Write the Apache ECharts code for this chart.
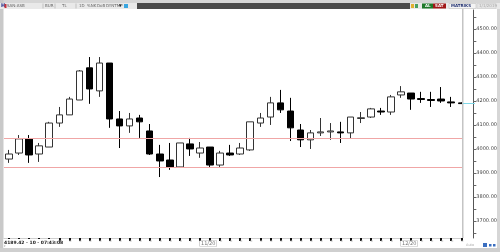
<!DOCTYPE html>
<html><head><meta charset="utf-8">
<script src="https://cdn.jsdelivr.net/npm/echarts@6/dist/echarts.min.js"></script>
<style>html,body{margin:0;padding:0;background:#fff}#c{width:500px;height:252px}</style>
</head><body><div id="c"></div>
<script>
// ---- data ----
var categories = ['','','','','','','','','','','','','','','','','','','','11/20','','','','','','','','','','','','','','','','','','','','12/20','','','','','',''];
// [open, close, low, high]
var candles = [
  [3958,3979,3942,3996],[3983,4042,3975,4058],[4042,3975,3942,4058],[3979,4013,3946,4025],
  [4008,4108,4008,4113],[4108,4142,4092,4175],[4142,4208,4142,4217],[4204,4325,4204,4329],
  [4338,4250,4188,4383],[4242,4358,4217,4383],[4358,4125,4088,4358],[4125,4096,4004,4158],
  [4096,4125,4067,4150],[4129,4113,4046,4142],[4075,3979,3975,4104],[3979,3950,3883,4017],
  [3954,3925,3913,4025],[3925,4025,3921,4025],[4021,4000,3971,4046],[3983,4004,3963,4029],
  [4008,3933,3925,4008],[3933,3983,3925,3992],[3983,3975,3971,4017],[3979,4004,3975,4025],
  [3996,4113,3992,4113],[4108,4129,4092,4150],[4133,4192,4100,4217],[4192,4163,4150,4246],
  [4158,4088,4033,4213],[4079,4038,4008,4104],[4038,4067,4000,4079],[4067,4071,4054,4129],
  [4071,4075,4038,4108],[4071,4067,4025,4113],[4067,4133,4042,4133],[4127,4130,4108,4154],
  [4133,4167,4129,4171],[4158,4154,4142,4171],[4154,4217,4142,4225],[4225,4238,4213,4262],
  [4233,4208,4163,4233],[4210,4206,4192,4238],[4206,4202,4175,4238],[4208,4200,4192,4258],
  [4196,4192,4175,4217],[4192,4189,4188,4194]
];
var refLevels = [4046, 3925];
var yTickLabels = [3700,3800,3900,4000,4100,4200,4300,4400,4500];
var yMinorTicks = [3650,3700,3750,3800,3850,3900,3950,4000,4050,4100,4150,4200,4250,4300,4350,4400,4450,4500,4550];
var lastPrice = 4189.42;
var statusText = '4189.42 - 10 - 07:43:08';

var chart = echarts.init(document.getElementById('c'), null, {renderer:'canvas'});
var FF = 'DejaVu Sans, sans-serif';
var refStyle = { color: '#f0a6a6', width: 1, type: 'solid', opacity: 1 };
var option = {
  backgroundColor: '#ffffff',
  animation: false,
  grid: { left: 4, top: 10, width: 464, bottom: 14, containLabel: false },
  xAxis: {
    type: 'category', data: categories, boundaryGap: true,
    axisLine: { show: true, lineStyle: { color: '#cfcfcf', width: 1 } },
    axisTick: { show: true, alignWithLabel: true, interval: 0, length: 3, lineStyle: { color: '#111', width: 2 } },
    axisLabel: { show: true, interval: 0, align: 'left', margin: 3, fontSize: 5, color: '#777', fontFamily: FF,
      borderColor: '#bbb', borderWidth: 0.6, padding: [0, 1, 0, 1], backgroundColor: '#fff' },
    splitLine: { show: false }
  },
  yAxis: {
    type: 'value', position: 'right', offset: 7, min: 3629, max: 4579, scale: true,
    axisLine: { show: true, lineStyle: { color: '#555', width: 1 } },
    axisTick: { show: true, length: 3, customValues: yMinorTicks, lineStyle: { color: '#666', width: 1 } },
    axisLabel: { show: true, customValues: yTickLabels, fontSize: 5, color: '#444', margin: 3, fontFamily: FF,
      formatter: function (v) { return String(v) + '.00'; } },
    splitLine: { show: false }
  },
  series: [{
    type: 'candlestick',
    data: candles,
    barWidth: 7,
    itemStyle: { color: '#ffffff', color0: '#000000', borderColor: '#333333', borderColor0: '#000000', borderWidth: 1 },
    markLine: {
      silent: true, symbol: 'none', label: { show: false },
      lineStyle: refStyle,
      emphasis: { disabled: true },
      data: refLevels.map(function (v) { return { yAxis: v, lineStyle: refStyle }; })
    }
  }],
  graphic: []
};
chart.setOption(option);

var yLast = chart.convertToPixel({ yAxisIndex: 0 }, lastPrice);
var g = [
  { type: 'rect', z: 100, shape: { x: 463, y: 9, width: 6, height: 230 }, style: { fill: '#ffffff' } },
  { type: 'rect', z: 101, shape: { x: 462, y: 9, width: 1.5, height: 229 }, style: { fill: '#c4c4c4' } },
  { type: 'line', z: 102, shape: { x1: 463, y1: yLast, x2: 475, y2: yLast }, style: { stroke: '#7fd8e8', lineWidth: 1 } },
  { type: 'rect', z: 100, shape: { x: 0, y: 0, width: 500, height: 3 }, style: { fill: '#d6d6d6' } },
  { type: 'rect', z: 100, shape: { x: 0, y: 0, width: 3.5, height: 252 }, style: { fill: '#c9c9c9' } },
  { type: 'rect', z: 100, shape: { x: 497, y: 0, width: 3, height: 252 }, style: { fill: '#d6d6d6' } },
  { type: 'rect', z: 100, shape: { x: 0, y: 248, width: 500, height: 4 }, style: { fill: '#cfcfcf' } },
  { type: 'rect', z: 100, shape: { x: 0, y: 3, width: 500, height: 6 }, style: { fill: '#e9e9e9' } },
  { type: 'rect', z: 101, shape: { x: 137, y: 3, width: 273, height: 6 }, style: { fill: '#4a4a4a' } },
  { type: 'text', z: 102, style: { x: 1, y: 3.5, text: 'H', fill: '#1a2a8a', font: 'bold 5px ' + FF } },
  { type: 'rect', z: 102, shape: { x: 4.5, y: 4, width: 2, height: 4 }, style: { fill: '#c8323c' } },
  { type: 'text', z: 102, style: { x: 7, y: 4, text: 'SAN:ASB', fill: '#666', font: '4px ' + FF } },
  { type: 'text', z: 102, style: { x: 45, y: 4, text: 'BUR', fill: '#666', font: '4px ' + FF } },
  { type: 'text', z: 102, style: { x: 62, y: 4, text: 'TL', fill: '#666', font: '4px ' + FF } },
  { type: 'text', z: 102, style: { x: 79, y: 4, text: '1D', fill: '#666', font: '4px ' + FF } },
  { type: 'text', z: 102, style: { x: 87, y: 4, text: '%NK', fill: '#666', font: '4px ' + FF } },
  { type: 'text', z: 102, style: { x: 97, y: 4, text: 'DoB', fill: '#666', font: '4px ' + FF } },
  { type: 'text', z: 102, style: { x: 106, y: 4, text: 'DYNTMP', fill: '#666', font: '4px ' + FF } },
  { type: 'text', z: 102, style: { x: 119, y: 3.5, text: '▾', fill: '#222', font: '5px ' + FF } },
  { type: 'rect', z: 102, shape: { x: 124, y: 4, width: 4, height: 4 }, style: { fill: '#3aa6e0' } },
  { type: 'line', z: 102, shape: { x1: 43, y1: 3.5, x2: 43, y2: 8.5 }, style: { stroke: '#aaa', lineWidth: 0.6 } },
  { type: 'line', z: 102, shape: { x1: 55, y1: 3.5, x2: 55, y2: 8.5 }, style: { stroke: '#aaa', lineWidth: 0.6 } },
  { type: 'line', z: 102, shape: { x1: 76, y1: 3.5, x2: 76, y2: 8.5 }, style: { stroke: '#aaa', lineWidth: 0.6 } },
  { type: 'rect', z: 102, shape: { x: 411, y: 4, width: 3, height: 4 }, style: { fill: '#e0b030' } },
  { type: 'rect', z: 102, shape: { x: 415, y: 4, width: 3, height: 4 }, style: { fill: '#4aa060' } },
  { type: 'rect', z: 102, shape: { x: 422, y: 3.5, width: 11, height: 5 }, style: { fill: '#1f7a2a' } },
  { type: 'text', z: 103, style: { x: 425, y: 4, text: 'AL', fill: '#fff', font: 'bold 4px ' + FF } },
  { type: 'rect', z: 102, shape: { x: 433, y: 3.5, width: 13, height: 5 }, style: { fill: '#a01818' } },
  { type: 'text', z: 103, style: { x: 435, y: 4, text: 'SAT', fill: '#fff', font: 'bold 4px ' + FF } },
  { type: 'rect', z: 102, shape: { x: 449, y: 3.5, width: 27, height: 5 }, style: { fill: '#f4f4f4', stroke: '#bbb', lineWidth: 0.5 } },
  { type: 'text', z: 103, style: { x: 451, y: 4, text: 'MATRIKS', fill: '#203070', font: 'bold 4px ' + FF } },
  { type: 'rect', z: 102, shape: { x: 477, y: 3.5, width: 19, height: 5 }, style: { fill: '#e4e4e4', stroke: '#c8c8c8', lineWidth: 0.5 } },
  { type: 'text', z: 103, style: { x: 479, y: 4, text: '1/1/2019', fill: '#aaa', font: '4px ' + FF } },
  { type: 'rect', z: 100, shape: { x: 3.5, y: 239, width: 54, height: 9 }, style: { fill: '#ffffff' } },
  { type: 'text', z: 101, style: { x: 4, y: 240, text: statusText, fill: '#222', font: 'bold 4.5px ' + FF } },
  { type: 'text', z: 101, style: { x: 4, y: 245, text: '▾', fill: '#999', font: '3px ' + FF } },
  { type: 'rect', z: 101, shape: { x: 483, y: 243, width: 4, height: 4 }, style: { fill: '#3a6ec0' } },
  { type: 'rect', z: 101, shape: { x: 489, y: 244, width: 2.5, height: 2.5 }, style: { fill: '#3a6ec0' } },
  { type: 'rect', z: 101, shape: { x: 493, y: 244, width: 2.5, height: 2.5 }, style: { fill: '#3a6ec0' } },
  { type: 'text', z: 101, style: { x: 466, y: 243, text: 'Auto', fill: '#aaa', font: '3.5px ' + FF } }
];
chart.setOption({ graphic: g });
</script>
</body></html>
